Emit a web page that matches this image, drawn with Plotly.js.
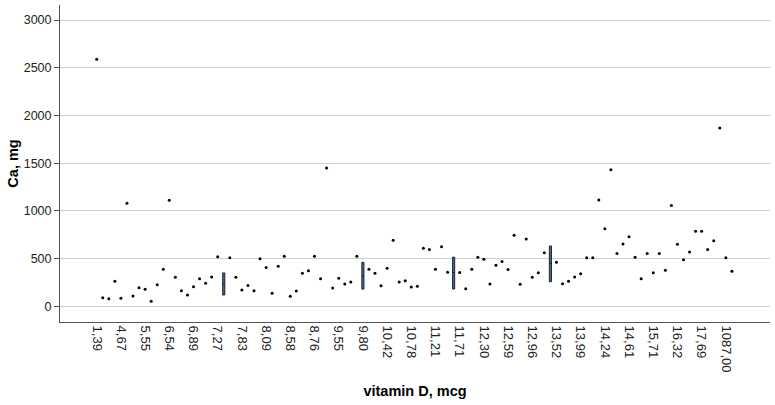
<!DOCTYPE html>
<html>
<head>
<meta charset="utf-8">
<script src="https://cdn.plot.ly/plotly-3.0.1.min.js"></script>
<style>html,body{margin:0;padding:0;background:#fff;}#chart{width:775px;height:405px;}</style>
</head>
<body>
<div id="chart"></div>
<script>
// Tick labels shown on the x axis (every 4th vitamin D category)
const vitaminDLabels = ["1,39","4,67","5,55","6,54","6,89","7,27","7,83","8,09","8,58","8,76","9,55","9,80","10,42","10,78","11,21","11,71","12,30","12,59","12,96","13,52","13,99","14,24","14,61","15,71","16,32","17,69","1087,00"];
const labelStep = 4;

// Ca, mg for each vitamin D category (null = category drawn as a box)
const caValues = [
  2590, 90, 80, 262, 84, 1080, 108, 195, 178, 52,
  226, 388, 1111, 304, 164, 118, 206, 290, 241, 307,
  520, null, 509, 304, 171, 218, 164, 499, 407, 138,
  420, 524, 106, 160, 347, 373, 524, 289, 1449, 193,
  293, 234, 255, 524, null, 388, 346, 216, 398, 693,
  255, 269, 202, 209, 608, 595, 389, 625, 357, null,
  354, 184, 388, 513, 494, 234, 430, 470, 386, 744,
  231, 706, 304, 352, 560, null, 461, 237, 263, 308,
  342, 509, 509, 1114, 813, 1432, 553, 654, 730, 513,
  288, 553, 352, 553, 377, 1056, 651, 487, 569, 786,
  786, 594, 686, 1869, 509, 368
];

// Categories with several cases: box summaries
const boxCategory = [21, 44, 59, 75];
const boxQ1 = [118, 180, 181, 258];
const boxMedian = [234, 321, 354, 451];
const boxQ3 = [350, 461, 515, 632];

const idx = caValues.map((_, i) => i);
const tickVals = vitaminDLabels.map((_, i) => i * labelStep);

const traces = [
  {
    type: 'box',
    x: boxCategory,
    q1: boxQ1,
    median: boxMedian,
    q3: boxQ3,
    lowerfence: boxQ1,
    upperfence: boxQ3,
    width: 0.35,
    fillcolor: '#4f6a8f',
    line: {color: '#1a2433', width: 1},
    whiskerwidth: 0,
    hoverinfo: 'skip',
    showlegend: false
  },
  {
    type: 'scatter',
    mode: 'markers',
    x: idx,
    y: caValues,
    marker: {color: '#000000', size: 3},
    showlegend: false,
    hoverinfo: 'x+y'
  }
];

const layout = {
  width: 775,
  height: 405,
  margin: {l: 60, r: 5, t: 5, b: 83},
  paper_bgcolor: '#ffffff',
  plot_bgcolor: '#ffffff',
  font: {family: 'Liberation Sans, Arial, sans-serif', size: 11, color: '#222'},
  xaxis: {
    range: [-6.07, 111.3],
    tickvals: tickVals,
    ticktext: vitaminDLabels,
    tickangle: 90,
    showgrid: false,
    zeroline: false,
    showline: true,
    linecolor: '#555',
    linewidth: 1,
    ticks: '',
    tickfont: {size: 13, color: '#222'},
    title: {text: 'vitamin D, mcg', font: {size: 14.5, color: '#000', weight: 'bold'}, standoff: 14}
  },
  yaxis: {
    range: [-164.5, 3157.2],
    tickvals: [0, 500, 1000, 1500, 2000, 2500, 3000],
    showgrid: true,
    gridcolor: '#cfcfcf',
    gridwidth: 1,
    zeroline: false,
    showline: true,
    linecolor: '#555',
    linewidth: 1,
    ticks: 'outside',
    ticklen: 5,
    tickcolor: '#555',
    tickfont: {size: 12.5, color: '#222'},
    title: {text: 'Ca, mg', font: {size: 14.5, color: '#000', weight: 'bold'}, standoff: 1}
  }
};

Plotly.newPlot('chart', traces, layout, {staticPlot: true, displayModeBar: false});
</script>
</body>
</html>
